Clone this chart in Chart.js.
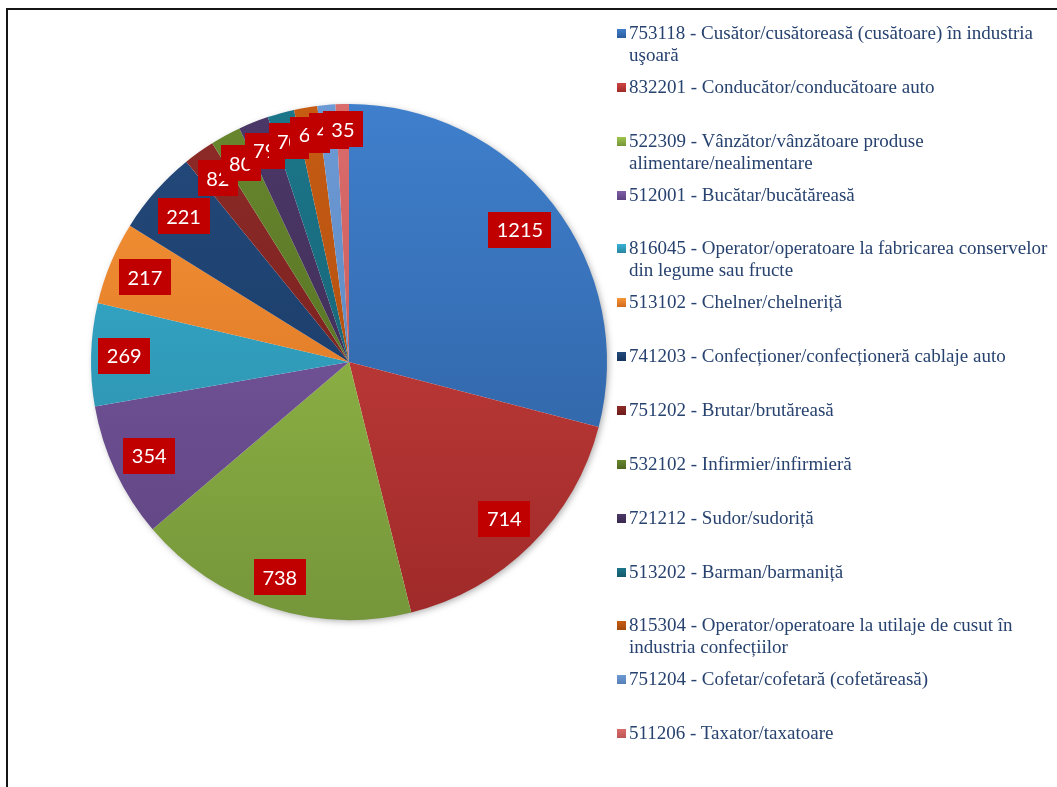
<!DOCTYPE html>
<html lang="ro">
<head>
<meta charset="utf-8">
<title>Ocupații</title>
<script src="https://cdn.jsdelivr.net/npm/chart.js@4.4.1/dist/chart.umd.min.js"></script>
<style>
  html, body { margin: 0; padding: 0; background: #fff; overflow: hidden; }
  #wrap { position: relative; width: 1057px; height: 787px; }
  #frame { position: absolute; left: 6px; top: 8px; width: 1100px; height: 900px; border: 2px solid #151515; }
  #chart { position: absolute; left: 0; top: 0; }
  #legend { position: absolute; left: 617px; top: 0; width: 440px; font-family: "Liberation Serif", "Times New Roman", serif; font-size: 19px; color: #27426F; }
  .item { position: absolute; left: 0; display: flex; }
  .mark { width: 9px; height: 9px; margin-top: 7px; margin-right: 3px; flex: none; }
  .text { line-height: 22px; white-space: nowrap; }
</style>
</head>
<body>
<div id="wrap">
  <div id="frame"></div>
  <canvas id="chart" width="1057" height="787"></canvas>
  <div id="legend"></div>
</div>
<script>
const codes = ['753118', '832201', '522309', '512001', '816045', '513102', '741203',
  '751202', '532102', '721212', '513202', '815304', '751204', '511206'];

const names = [
  ['Cusător/cusătoreasă (cusătoare) în industria', 'uşoară'],
  ['Conducător/conducătoare auto'],
  ['Vânzător/vânzătoare produse', 'alimentare/nealimentare'],
  ['Bucătar/bucătăreasă'],
  ['Operator/operatoare la fabricarea conservelor', 'din legume sau fructe'],
  ['Chelner/chelneriță'],
  ['Confecționer/confecționeră  cablaje auto'],
  ['Brutar/brutăreasă'],
  ['Infirmier/infirmieră'],
  ['Sudor/sudoriță'],
  ['Barman/barmaniță'],
  ['Operator/operatoare la utilaje de cusut în', 'industria confecțiilor'],
  ['Cofetar/cofetară (cofetăreasă)'],
  ['Taxator/taxatoare']
];

const values = [1215, 714, 738, 354, 269, 217, 221, 82, 80, 79, 70, 61, 47, 35];

// culoare sus / jos pentru gradient
const topColors = ['#3F7FCC', '#D04442', '#9EC54C', '#7F5DA8', '#38B1D5', '#F89637', '#234A7C',
  '#8E2B28', '#68872D', '#4C3868', '#1C768A', '#C75C13', '#6C9AD5', '#DA6C6B'];
const bottomColors = ['#2C5C9A', '#9F2A29', '#75963A', '#5D437F', '#2987A0', '#D16A1F', '#17355E',
  '#6C1C1A', '#4E6721', '#39294F', '#145A6A', '#A3480D', '#5880B6', '#BD5655'];

const $ = (id) => document.getElementById(id);

function sliceGradient(ctx) {
  const i = ctx.dataIndex;
  const area = ctx.chart.chartArea;
  if (!area) return topColors[i];
  const g = ctx.chart.ctx.createLinearGradient(0, area.top, 0, area.bottom);
  g.addColorStop(0, topColors[i]);
  g.addColorStop(1, bottomColors[i]);
  return g;
}

// umbra discreta sub placinta
const pieShadow = {
  id: 'pieShadow',
  beforeDatasetsDraw(chart) {
    const arc = chart.getDatasetMeta(0).data[0];
    if (!arc) return;
    const ctx = chart.ctx;
    ctx.save();
    ctx.shadowColor = 'rgba(0,0,0,0.35)';
    ctx.shadowBlur = 7;
    ctx.shadowOffsetX = 2;
    ctx.shadowOffsetY = 2;
    ctx.fillStyle = '#fff';
    ctx.beginPath();
    ctx.arc(arc.x, arc.y, arc.outerRadius - 1, 0, Math.PI * 2);
    ctx.fill();
    ctx.restore();
  }
};

// cea mai mare distanta la care cutia incape in cerc (capat interior)
function insideEnd(radius, mid, w, h) {
  const limit = radius - 6;
  let lo = 0, hi = radius;
  for (let k = 0; k < 30; k++) {
    const d = (lo + hi) / 2;
    const cx = Math.cos(mid) * d;
    const cy = Math.sin(mid) * d;
    const far = Math.max(
      Math.hypot(cx - w / 2, cy - h / 2), Math.hypot(cx + w / 2, cy - h / 2),
      Math.hypot(cx - w / 2, cy + h / 2), Math.hypot(cx + w / 2, cy + h / 2)
    );
    if (far > limit) hi = d; else lo = d;
  }
  return lo;
}

// etichete rosii
const labelBoxes = {
  id: 'labelBoxes',
  afterDatasetsDraw(chart) {
    const ctx = chart.ctx;
    const meta = chart.getDatasetMeta(0);
    ctx.save();
    ctx.font = '20px Lato';
    ctx.textAlign = 'center';
    ctx.textBaseline = 'middle';
    meta.data.forEach((arc, i) => {
      const text = String(values[i]);
      const w = Math.round(ctx.measureText(text).width + 17);
      const h = 36;
      const mid = (arc.startAngle + arc.endAngle) / 2;
      const dist = insideEnd(arc.outerRadius, mid, w, h);
      const x = arc.x + Math.cos(mid) * dist;
      const y = arc.y + Math.sin(mid) * dist;
      ctx.fillStyle = '#C00000';
      ctx.fillRect(Math.round(x - w / 2), Math.round(y - h / 2), w, h);
      ctx.fillStyle = '#fff';
      ctx.fillText(text, x, y + 1);
    });
    ctx.restore();
  }
};

new Chart($('chart'), {
  type: 'pie',
  data: {
    labels: codes.map((c, i) => `${c} - ${names[i].join(' ')}`),
    datasets: [{
      data: values,
      backgroundColor: sliceGradient,
      borderWidth: 0
    }]
  },
  options: {
    responsive: false,
    animation: false,
    layout: { padding: { left: 91, top: 104, right: 450, bottom: 167 } },
    plugins: {
      legend: { display: false },
      tooltip: { enabled: false }
    }
  },
  plugins: [pieShadow, labelBoxes]
});

function renderLegend() {
  const legend = $('legend');
  legend.innerHTML = codes.map((code, i) => {
    const top = 22 + i * 53.85;
    const lines = names[i].map((t, j) => j === 0 ? `${code} - ${t}` : t);
    return `
      <div class="item" style="top:${top}px">
        <div class="mark" style="background:linear-gradient(${topColors[i]}, ${bottomColors[i]})"></div>
        <div class="text">${lines.join('<br>')}</div>
      </div>`;
  }).join('');
}

renderLegend();
</script>
</body>
</html>
